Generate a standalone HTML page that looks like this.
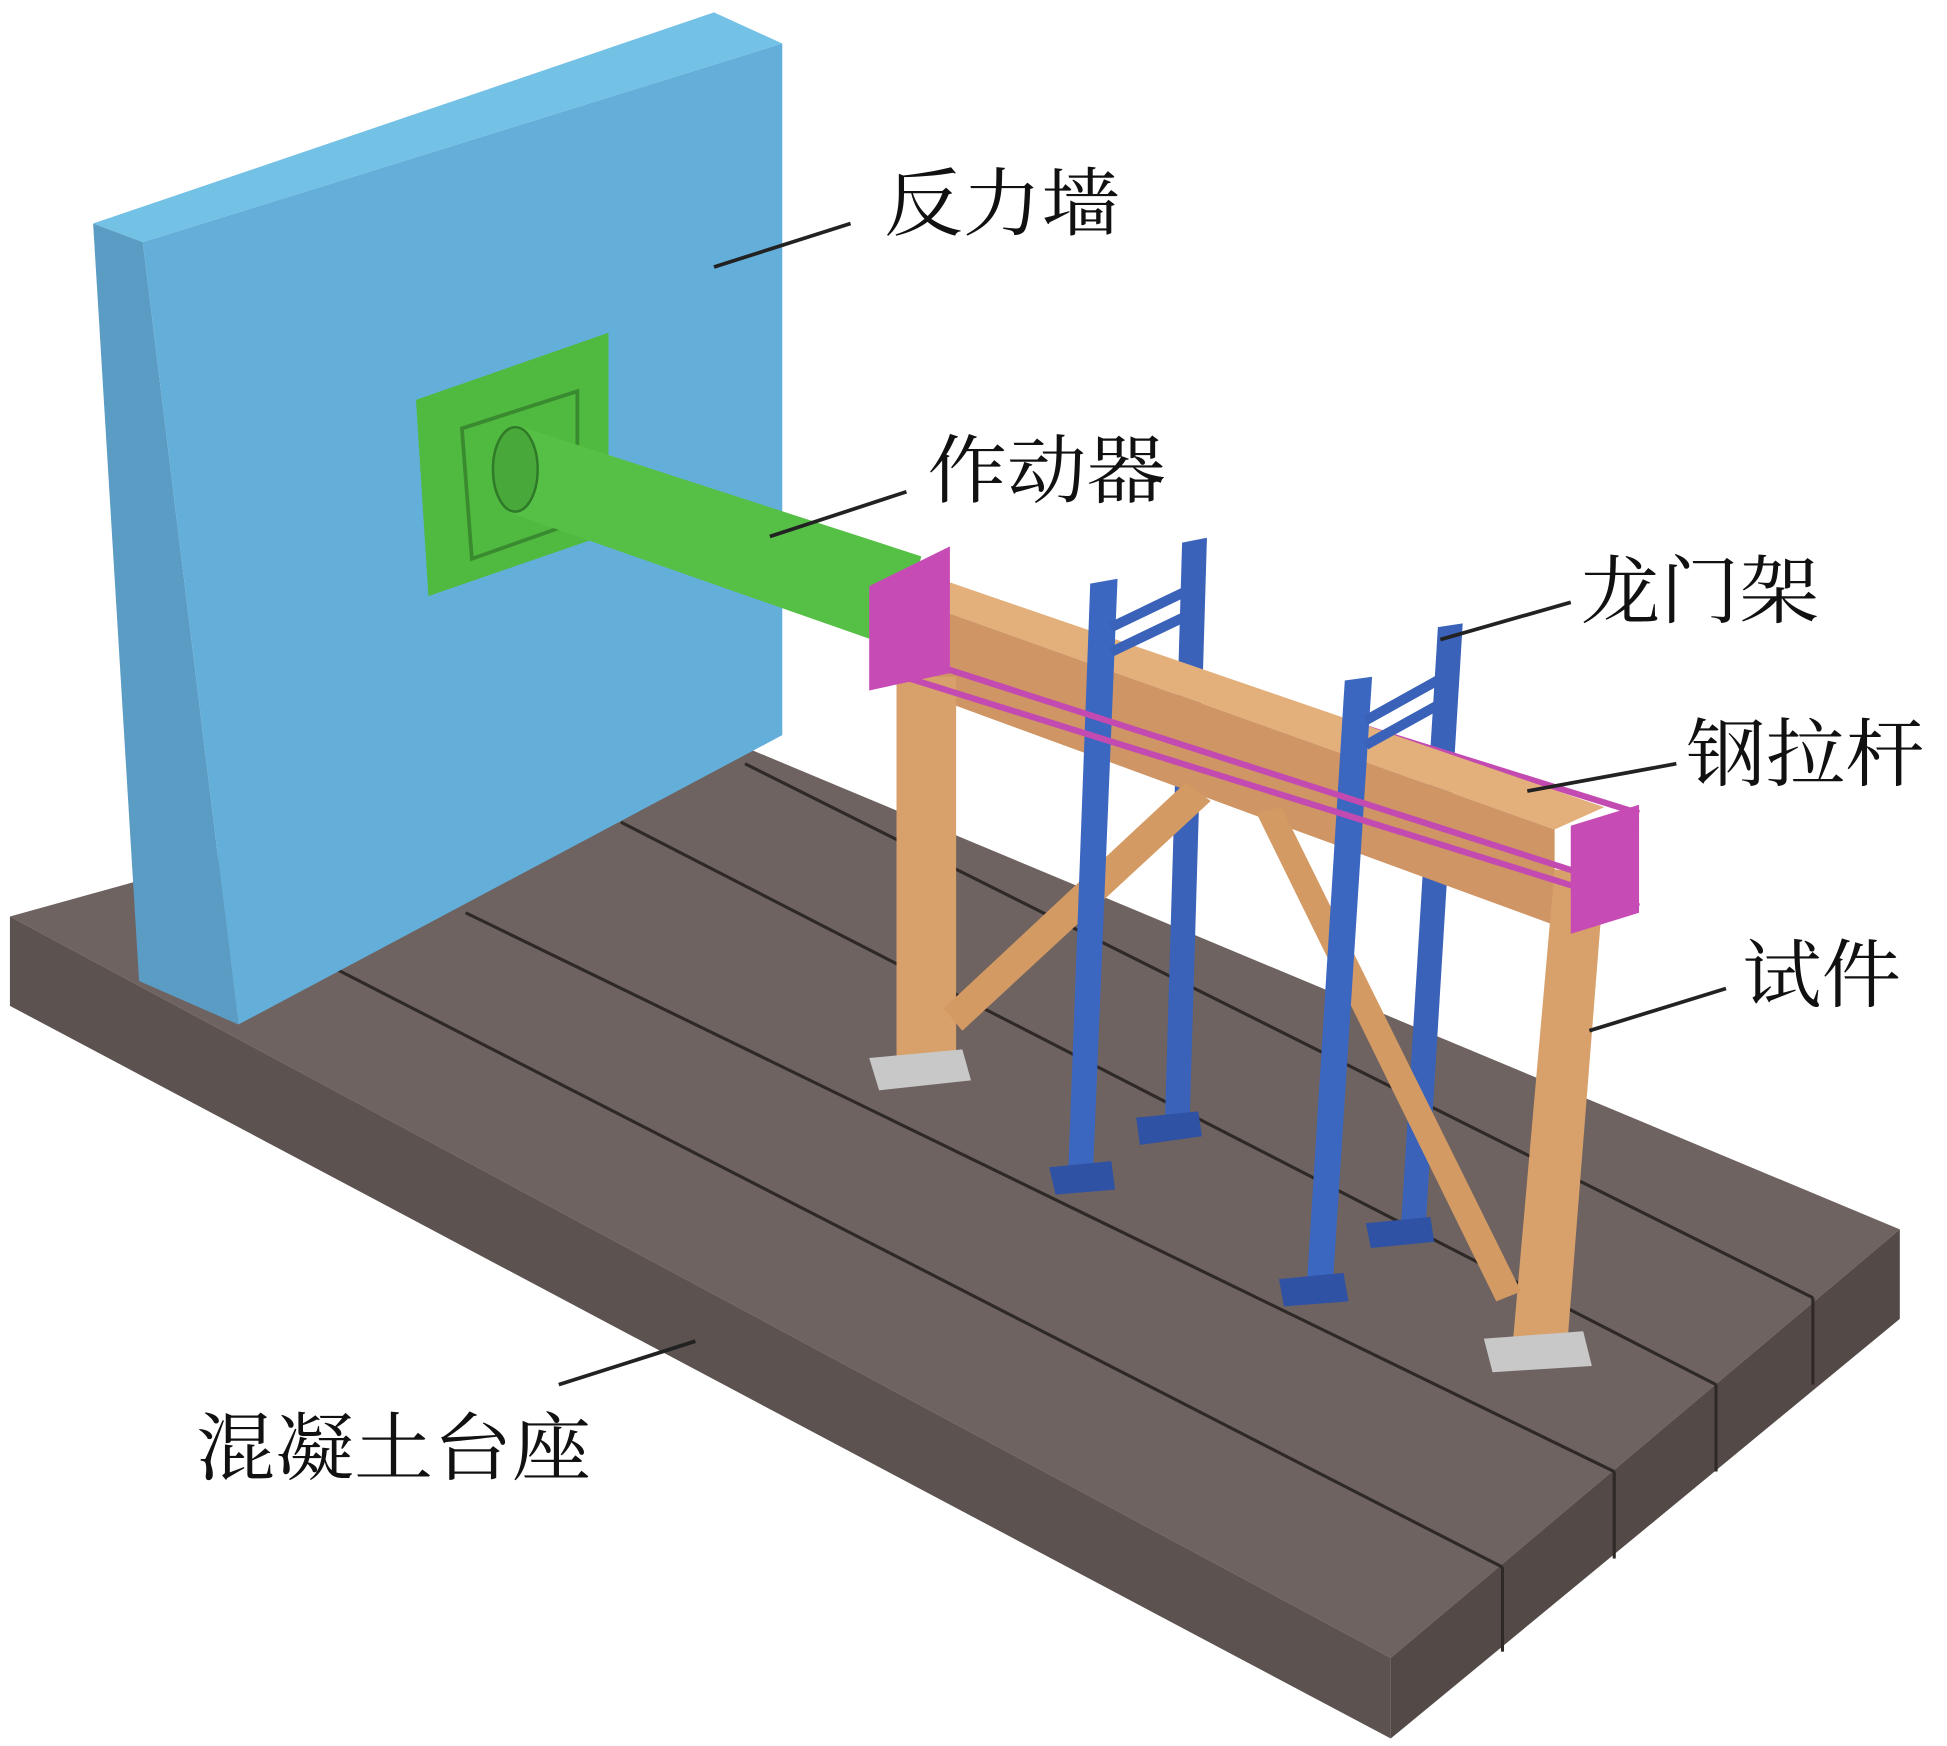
<!DOCTYPE html>
<html><head><meta charset="utf-8"><style>
html,body{margin:0;padding:0;background:#fff}
svg{display:block}
text{font-family:"Liberation Serif","Noto Serif CJK SC","Noto Sans CJK SC",serif;font-size:60px;fill:#111}
</style></head><body>
<svg width="1947" height="1746" viewBox="0 0 1568 1406" preserveAspectRatio="none" xmlns="http://www.w3.org/2000/svg">
<rect width="1568" height="1406" fill="#fff"/>
<polygon points="8,738 560,585 1530,990 1120,1335" fill="#6e6360"/>
<polygon points="8,738 1120,1335 1120,1400 8,810" fill="#5c524f"/>
<polygon points="1120,1335 1530,990 1530,1062 1120,1400" fill="#534a48"/>
<g stroke="#2e2826" stroke-width="2.5" fill="none">
<line x1="270" y1="780" x2="1210" y2="1262"/>
<line x1="375" y1="735" x2="1300" y2="1185"/>
<line x1="500" y1="662" x2="1382" y2="1115"/>
<line x1="600" y1="615" x2="1460" y2="1045"/>
<line x1="1210" y1="1262" x2="1210" y2="1330"/>
<line x1="1300" y1="1185" x2="1300" y2="1255"/>
<line x1="1382" y1="1115" x2="1382" y2="1185"/>
<line x1="1460" y1="1045" x2="1460" y2="1115"/>
</g>
<polygon points="75,180 575,10 630,35 115,195" fill="#74c1e6"/>
<polygon points="75,180 115,195 192,825 112,790" fill="#5a9cc4"/>
<polygon points="115,195 630,35 630,592 192,825" fill="#64afda"/>
<polygon points="335,322 490,268 490,430 345,480" fill="#4fba3f"/>
<polygon points="372,345 465,315 465,420 380,450" fill="none" stroke="#3a8a30" stroke-width="3"/>
<polygon points="418,343 742,448 722,522 408,412" fill="#56c046"/>
<ellipse cx="415" cy="378" rx="18" ry="34" fill="#48a83a" stroke="#2f7a28" stroke-width="2"/>
<polygon points="952,437 972,433 958,905 938,908" fill="#3a62b8"/>
<polygon points="915,900 965,895 968,915 918,922" fill="#2f52a4"/>
<polygon points="1158,505 1178,502 1148,990 1128,992" fill="#3a62b8"/>
<polygon points="1100,985 1152,980 1155,1000 1104,1005" fill="#2f52a4"/>
<g stroke="#c34ab0" stroke-width="5">
<line x1="720" y1="468" x2="1320" y2="655"/>
</g>
<polygon points="720,478 762,468 1292,650 1252,668" fill="#e3b07c"/>
<polygon points="720,478 1252,668 1252,745 720,550" fill="#cf9565"/>
<polygon points="722,545 770,545 770,860 722,860" fill="#d8a06a"/>
<polygon points="1252,700 1292,705 1262,1085 1218,1085" fill="#d8a06a"/>
<polygon points="955,630 975,645 775,830 760,812" fill="#d39a64"/>
<polygon points="1012,655 1032,650 1225,1040 1205,1048" fill="#d39a64"/>
<polygon points="700,852 775,845 782,870 708,878" fill="#c8c8c8"/>
<polygon points="1195,1078 1275,1072 1282,1100 1202,1105" fill="#c8c8c8"/>
<polygon points="878,470 900,466 880,950 860,952" fill="#3c67c0"/>
<polygon points="845,940 895,935 898,958 850,962" fill="#2f52a4"/>
<polygon points="1083,548 1105,545 1073,1040 1052,1042" fill="#3c67c0"/>
<polygon points="1030,1030 1082,1025 1086,1048 1034,1052" fill="#2f52a4"/>
<g stroke="#3a62b8" stroke-width="8">
<line x1="895" y1="505" x2="968" y2="470"/>
<line x1="895" y1="525" x2="968" y2="490"/>
<line x1="1100" y1="580" x2="1172" y2="540"/>
<line x1="1100" y1="600" x2="1172" y2="560"/>
</g>
<g stroke="#c34ab0" stroke-width="5">
<line x1="712" y1="540" x2="1320" y2="730"/>
<line x1="720" y1="525" x2="1310" y2="715"/>
</g>
<polygon points="700,472 765,440 765,542 700,556" fill="#c74bb4"/>
<polygon points="1265,665 1320,648 1320,735 1265,752" fill="#c74bb4"/>
<g stroke="#222" stroke-width="3">
<line x1="575" y1="215" x2="685" y2="180"/>
<line x1="620" y1="432" x2="730" y2="396"/>
<line x1="1160" y1="515" x2="1265" y2="485"/>
<line x1="1230" y1="637" x2="1350" y2="615"/>
<line x1="1280" y1="830" x2="1390" y2="796"/>
<line x1="450" y1="1115" x2="560" y2="1080"/>
</g>
<text x="712" y="185" textLength="190" lengthAdjust="spacingAndGlyphs">反力墙</text>
<text x="747" y="400" textLength="192" lengthAdjust="spacingAndGlyphs">作动器</text>
<text x="1273" y="497" textLength="192" lengthAdjust="spacingAndGlyphs">龙门架</text>
<text x="1358" y="628" textLength="192" lengthAdjust="spacingAndGlyphs">钢拉杆</text>
<text x="1403" y="806" textLength="128" lengthAdjust="spacingAndGlyphs">试件</text>
<text x="158" y="1187" textLength="318" lengthAdjust="spacingAndGlyphs">混凝土台座</text>
</svg>
</body></html>
